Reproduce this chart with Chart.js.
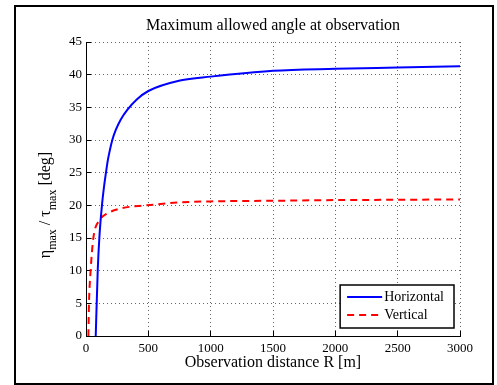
<!DOCTYPE html>
<html>
<head>
<meta charset="utf-8">
<script src="https://cdn.jsdelivr.net/npm/chart.js@4.4.1/dist/chart.umd.min.js"></script>
<style>
    html, body { margin: 0; padding: 0; background: #fff; }
    #wrap { position: relative; width: 497px; height: 385px; }
    #frame { position: absolute; left: 14px; top: 5px; width: 476px; height: 376px; border: 2px solid #000; }
    #chart { position: absolute; left: 0; top: 0; }
</style>
</head>
<body>
<div id="wrap">
    <div id="frame"></div>
    <canvas id="chart" width="497" height="385"></canvas>
</div>
<script>
// values
const chartTitle = 'Maximum allowed angle at observation';
const xTitle = 'Observation distance R [m]';
const yTitleParts = [['η', false], ['max', true], [' / ', false], ['τ', false], ['max', true], [' [deg]', false]];

const xTicks = [0, 500, 1000, 1500, 2000, 2500, 3000];
const yTicks = [0, 5, 10, 15, 20, 25, 30, 35, 40, 45];

// Horizontal (blue, solid)
const horizR   = [78, 94, 107, 128, 147, 160, 176, 192, 211, 238, 278, 331, 407, 500, 754, 1000, 1500, 2000, 2500, 3000];
const horizEta = [0, 10, 15, 20, 23.2, 25, 27, 28.5, 30, 31.5, 33.1, 34.6, 36.2, 37.5, 39.1, 39.7, 40.6, 40.9, 41.1, 41.3];

// Vertical (red, dashed)
const vertR   = [19, 24, 37, 59, 112, 166, 273, 487, 754, 1000, 1500, 2000, 2500, 3000];
const vertTau = [0, 5, 10, 15, 17.8, 18.7, 19.5, 20, 20.45, 20.6, 20.7, 20.8, 20.85, 20.9];

const serif = "'Liberation Serif', 'Times New Roman', serif";

const toPoints = (xs, ys) => xs.map((x, i) => ({ x: x, y: ys[i] }));

// title, rotated y label with subscripts, and the boxed legend
const textPlugin = {
    id: 'textPlugin',
    afterDraw(chart) {
        const ctx = chart.ctx;
        const area = chart.chartArea;
        const cx = (area.left + area.right) / 2;

        ctx.save();
        ctx.fillStyle = '#000';
        ctx.font = '16px ' + serif;
        ctx.textAlign = 'center';
        ctx.textBaseline = 'middle';
        ctx.fillText(chartTitle, cx, 26);
        ctx.restore();

        // y label
        ctx.save();
        const mainFont = '16px ' + serif;
        const subFont = '12px ' + serif;
        let total = 0;
        yTitleParts.forEach(p => {
            ctx.font = p[1] ? subFont : mainFont;
            total += ctx.measureText(p[0]).width;
        });
        ctx.translate(50, (area.top + area.bottom) / 2 + 16);
        ctx.rotate(-Math.PI / 2);
        ctx.fillStyle = '#000';
        ctx.textAlign = 'left';
        ctx.textBaseline = 'alphabetic';
        let pos = -total / 2;
        yTitleParts.forEach(p => {
            ctx.font = p[1] ? subFont : mainFont;
            ctx.fillText(p[0], pos, p[1] ? 6 : 0);
            pos += ctx.measureText(p[0]).width;
        });
        ctx.restore();

        // legend
        ctx.save();
        ctx.font = '14px ' + serif;
        const sets = chart.data.datasets;
        const textW = Math.max(...sets.map(d => ctx.measureText(d.label).width));
        const boxW = 7 + 35 + 2 + textW + 10;
        const boxH = 43;
        const bx = area.right - 6 - boxW;
        const by = area.bottom - 8 - boxH;
        ctx.fillStyle = '#fff';
        ctx.fillRect(bx, by, boxW, boxH);
        ctx.strokeStyle = '#000';
        ctx.lineWidth = 1.5;
        ctx.strokeRect(bx, by, boxW, boxH);
        sets.forEach((d, i) => {
            const ly = by + 12 + i * 18;
            ctx.strokeStyle = d.borderColor;
            ctx.lineWidth = d.borderWidth;
            ctx.setLineDash(d.borderDash || []);
            ctx.beginPath();
            ctx.moveTo(bx + 7, ly);
            ctx.lineTo(bx + 42, ly);
            ctx.stroke();
            ctx.setLineDash([]);
            ctx.fillStyle = '#000';
            ctx.textAlign = 'left';
            ctx.textBaseline = 'middle';
            ctx.fillText(d.label, bx + 44, ly);
        });
        ctx.restore();
    }
};

const gridStyle = {
    color: '#666',
    lineWidth: 1,
    tickLength: -5,      // tick marks pointing into the plot, like matlab
    tickColor: '#000',
    tickBorderDash: []
};
const borderStyle = { display: true, color: '#000', width: 1, dash: [1, 3] };

new Chart(document.getElementById('chart'), {
    type: 'line',
    data: {
        datasets: [
            { label: 'Horizontal', data: toPoints(horizR, horizEta), borderColor: '#0000ff', borderWidth: 2, pointRadius: 0, cubicInterpolationMode: 'monotone', fill: false },
            { label: 'Vertical', data: toPoints(vertR, vertTau), borderColor: '#ff0000', borderWidth: 2, borderDash: [7, 5], pointRadius: 0, cubicInterpolationMode: 'monotone', fill: false }
        ]
    },
    options: {
        responsive: false,
        animation: false,
        events: [],
        layout: { padding: { top: 42, right: 37, bottom: 0, left: 46 } },
        plugins: { legend: { display: false }, title: { display: false }, tooltip: { enabled: false } },
        scales: {
            x: {
                type: 'linear', min: 0, max: 3000,
                afterBuildTicks: s => { s.ticks = xTicks.map(v => ({ value: v })); },
                afterFit: s => { s.height = 49; },
                grid: gridStyle,
                border: borderStyle,
                ticks: { color: '#000', font: { family: serif, size: 13 }, padding: 10, maxRotation: 0, autoSkip: false, callback: v => String(v) },
                title: { display: true, text: xTitle, color: '#000', font: { family: serif, size: 16 }, padding: { top: 0, bottom: 13 } }
            },
            y: {
                type: 'linear', min: 0, max: 45,
                afterBuildTicks: s => { s.ticks = yTicks.map(v => ({ value: v })); },
                afterFit: s => { s.width = 40; },
                grid: gridStyle,
                border: borderStyle,
                ticks: { color: '#000', font: { family: serif, size: 13 }, padding: 9, autoSkip: false, callback: v => String(v) }
            }
        }
    },
    plugins: [textPlugin]
});
</script>
</body>
</html>
